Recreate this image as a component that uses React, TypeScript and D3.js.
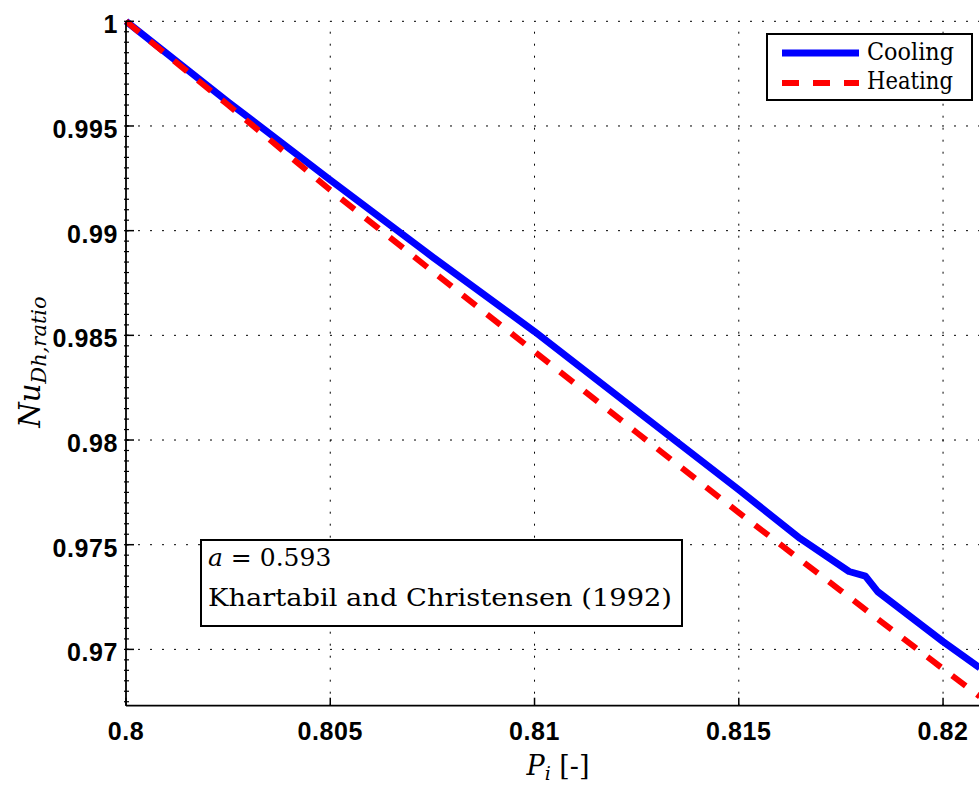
import React from "react";
import * as d3 from "d3";

const coolingP = [0.8, 0.8025, 0.805, 0.8075, 0.81, 0.8125, 0.815, 0.8165, 0.8177, 0.8181, 0.8184, 0.82, 0.8209];
const coolingNu = [1.0, 0.99615, 0.99242, 0.98875, 0.98518, 0.9814, 0.97762, 0.9753, 0.97372, 0.9735, 0.97276, 0.97037, 0.96912];
const heatingP = [0.8, 0.8025, 0.805, 0.8075, 0.81, 0.8125, 0.815, 0.8175, 0.82, 0.8209];
const heatingNu = [1.0, 0.996, 0.99194, 0.98806, 0.98422, 0.98036, 0.97653, 0.9728, 0.96907, 0.96775];

const xTicks = [0.8, 0.805, 0.81, 0.815, 0.82];
const xTickLabels = ["0.8", "0.805", "0.81", "0.815", "0.82"];
const yTicks = [0.97, 0.975, 0.98, 0.985, 0.99, 0.995, 1];
const yTickLabels = ["0.97", "0.975", "0.98", "0.985", "0.99", "0.995", "1"];
const seriesNames = ["Cooling", "Heating"];
const annotationLines = ["0.593", "Khartabil and Christensen (1992)"];

const W = 979;
const H = 785;
const left = 126;
const right = 979;
const top = 21.3;
const bottom = 705.7;

export default function App() {
  const x = d3.scaleLinear().domain([0.8, 0.82088]).range([left, right]);
  const y = d3.scaleLinear().domain([0.96731, 1]).range([bottom, top]);

  const line = d3
    .line<[number, number]>()
    .x((d) => x(d[0]))
    .y((d) => y(d[1]));

  const cool: [number, number][] = coolingP.map((p, i) => [p, coolingNu[i]]);
  const heat: [number, number][] = heatingP.map((p, i) => [p, heatingNu[i]]);

  const minorTicks = d3.range(0, 67).map((i) => 0.9675 + i * 0.0005).filter((v) => v <= 1.00001 && v >= 0.96731);

  const sans = "'Liberation Sans', Arial, sans-serif";
  const serif = "'DejaVu Serif', serif";

  return (
    <svg width={W} height={H} style={{ position: "absolute", left: 0, top: 0, background: "#fff" }}>
      <defs>
        <clipPath id="plotclip">
          <rect x={left - 4} y={top - 4} width={right - left + 8} height={bottom - top + 4} />
        </clipPath>
      </defs>
      <rect x={0} y={0} width={W} height={H} fill="#fff" />
      {/* grid */}
      {yTicks.map((t) => (
        <line key={"gy" + t} x1={left} x2={right} y1={y(t)} y2={y(t)} stroke="#000" strokeWidth={1} strokeDasharray="2,10" />
      ))}
      {xTicks.slice(1).map((t) => (
        <line key={"gx" + t} x1={x(t)} x2={x(t)} y1={bottom} y2={top} stroke="#000" strokeWidth={1} strokeDasharray="2,10" />
      ))}
      {/* series */}
      <g clipPath="url(#plotclip)">
        <path d={line(cool) || ""} fill="none" stroke="#0000ff" strokeWidth={7} strokeLinejoin="round" />
        <path d={line(heat) || ""} fill="none" stroke="#ff0000" strokeWidth={6} strokeDasharray="17,14" />
      </g>
      {/* axes */}
      <line x1={left} x2={left} y1={top} y2={bottom} stroke="#000" strokeWidth={1.8} />
      <line x1={left} x2={right} y1={bottom} y2={bottom} stroke="#000" strokeWidth={1.8} />
      {minorTicks.map((t, i) => (
        <line key={"my" + i} x1={left - 2} x2={left + 3} y1={y(t)} y2={y(t)} stroke="#000" strokeWidth={1.2} />
      ))}
      {yTicks.map((t) => (
        <line key={"ty" + t} x1={left} x2={left + 8} y1={y(t)} y2={y(t)} stroke="#000" strokeWidth={1.5} />
      ))}
      {xTicks.map((t) => (
        <line key={"tx" + t} x1={x(t)} x2={x(t)} y1={bottom} y2={bottom - 8} stroke="#000" strokeWidth={1.5} />
      ))}
      {/* tick labels */}
      {yTicks.map((t, i) => (
        <text key={"ly" + t} x={118} y={y(t) + 12} textAnchor="end" fontFamily={sans} fontWeight="bold" fontSize={25} letterSpacing={0.6} fill="#000">
          {yTickLabels[i]}
        </text>
      ))}
      {xTicks.map((t, i) => (
        <text key={"lx" + t} x={x(t)} y={740} textAnchor="middle" fontFamily={sans} fontWeight="bold" fontSize={25} letterSpacing={0.6} fill="#000">
          {xTickLabels[i]}
        </text>
      ))}
      {/* axis labels */}
      <text x={558} y={775} textAnchor="middle" fontFamily={serif} fontSize={27} fill="#000">
        <tspan fontStyle="italic">P</tspan>
        <tspan fontStyle="italic" fontSize={19} dy={5}>i</tspan>
        <tspan dy={-5}> [-]</tspan>
      </text>
      <text transform="translate(40,362) rotate(-90)" textAnchor="middle" fontFamily={serif} fontSize={29} fill="#000">
        <tspan fontStyle="italic">Nu</tspan>
        <tspan fontStyle="italic" fontSize={21} dy={6}>Dh,ratio</tspan>
      </text>
      {/* annotation */}
      <rect x={201} y={540} width={481} height={86} fill="#fff" stroke="#000" strokeWidth={2} />
      <text x={208} y={566} fontFamily={serif} fontSize={25} fill="#000">
        <tspan fontStyle="italic">a</tspan>
        <tspan> = {annotationLines[0]}</tspan>
      </text>
      <text x={208} y={606} fontFamily={serif} fontSize={25} fill="#000" textLength={464} lengthAdjust="spacingAndGlyphs">
        {annotationLines[1]}
      </text>
      {/* legend */}
      <rect x={767} y={34} width={205} height={66} fill="#fff" stroke="#000" strokeWidth={2} />
      <line x1={782} x2={859} y1={53} y2={53} stroke="#0000ff" strokeWidth={7} />
      <line x1={782} x2={859} y1={83} y2={83} stroke="#ff0000" strokeWidth={6} strokeDasharray="17,14" />
      <text x={867} y={60} fontFamily={serif} fontSize={25} fill="#000" textLength={87} lengthAdjust="spacingAndGlyphs">
        {seriesNames[0]}
      </text>
      <text x={867} y={89} fontFamily={serif} fontSize={25} fill="#000" textLength={86} lengthAdjust="spacingAndGlyphs">
        {seriesNames[1]}
      </text>
    </svg>
  );
}
